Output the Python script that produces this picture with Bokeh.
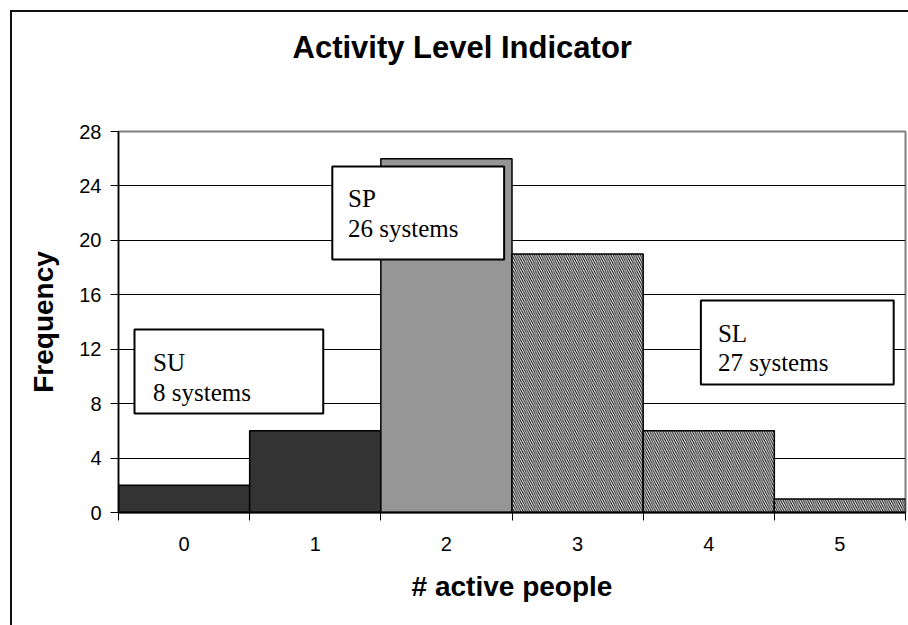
from bokeh.plotting import figure
from bokeh.models import Range1d, FixedTicker, ColumnDataSource, LinearAxis
from bokeh.core.properties import value
from bokeh.embed import file_html
from bokeh.resources import INLINE

# ---- data ----
active_people = [0, 1, 2, 3, 4, 5]
x_labels = ["0", "1", "2", "3", "4", "5"]
frequency = [2, 6, 26, 19, 6, 1]
group = ["SU", "SU", "SP", "SL", "SL", "SL"]
y_ticks = [0, 4, 8, 12, 16, 20, 24, 28]
group_line1 = ["SU", "SP", "SL"]
group_line2 = ["8 systems", "26 systems", "27 systems"]

# ---- styles ----
fill_by_group = {"SU": "#333333", "SP": "#969696", "SL": "#ffffff"}
hatch_by_group = {"SU": " ", "SP": " ", "SL": "left_diagonal_line"}

W, H = 908, 625
border_css = ("linear-gradient(#111,#111) 10px 10px / 2px calc(100% - 10px) no-repeat, "
              "linear-gradient(#111,#111) 10px 10px / calc(100% - 10px) 2px no-repeat, #ffffff")
p = figure(width=W, height=H, output_backend="svg", toolbar_location=None,
           x_range=Range1d(-0.5, 5.5), y_range=Range1d(0, 28),
           min_border_left=118, min_border_right=3, min_border_top=131,
           min_border_bottom=113,
           styles={"background": border_css})
p.background_fill_color = "white"
p.border_fill_alpha = 0
p.outline_line_color = "#808080"
p.outline_line_width = 2

# title
p.title.text = "Activity Level Indicator"
p.title.align = "left"
p.title.offset = 174
p.title.standoff = 10
p.title.text_font = "Liberation Sans"
p.title.text_font_size = "31px"
p.title.text_font_style = "bold"
p.title.text_color = "black"

# grid
p.xgrid.visible = False
p.ygrid.ticker = FixedTicker(ticks=y_ticks[1:-1])
p.ygrid.grid_line_color = "black"
p.ygrid.grid_line_width = 1
p.ygrid.level = "underlay"

# bars
src = ColumnDataSource(dict(
    x=active_people, top=frequency,
    fill=[fill_by_group[g] for g in group],
    hatch=[hatch_by_group[g] for g in group],
))
p.vbar(x="x", top="top", width=1.0, bottom=0, source=src,
       fill_color="fill", line_color="black", line_width=1.5,
       hatch_pattern="hatch", hatch_color="black", hatch_scale=4.5,
       hatch_weight=1)

# annotation boxes (data coordinates)
box_left = [-0.378, 1.13, 3.94]
box_right = [1.061, 2.44, 5.41]
box_top = [13.45, 25.43, 15.58]
box_bottom = [7.28, 18.59, 9.41]
p.quad(left=box_left, right=box_right, top=box_top, bottom=box_bottom,
       fill_color="white", line_color="black", line_width=2)
text_x = [-0.237, 1.25, 4.07]
line1_y = [11.02, 23.08, 13.18]
line2_y = [8.82, 20.87, 11.05]
p.text(x=text_x, y=line1_y, text=group_line1, text_font=value("Liberation Serif"),
       text_font_size="25px", text_color="black", text_baseline="alphabetic")
p.text(x=text_x, y=line2_y, text=group_line2, text_font=value("Liberation Serif"),
       text_font_size="25px", text_color="black", text_baseline="alphabetic")

# axes
yax = p.left[0]
yax.ticker = FixedTicker(ticks=y_ticks)
yax.major_tick_out = 8
yax.major_tick_in = 0
yax.minor_tick_out = 0
yax.minor_tick_in = 0
yax.major_label_standoff = 9
yax.major_label_text_font = "Liberation Sans"
yax.major_label_text_font_size = "20px"
yax.major_label_text_color = "black"
yax.axis_line_color = "black"
yax.axis_line_width = 1.5
yax.major_tick_line_color = "black"
yax.major_tick_line_width = 1
yax.axis_label = "Frequency"
yax.axis_label_text_font = "Liberation Sans"
yax.axis_label_text_font_size = "28px"
yax.axis_label_text_font_style = "bold"
yax.axis_label_text_color = "black"
yax.axis_label_standoff = 17

xax = p.below[0]
xax.ticker = FixedTicker(ticks=active_people,
                         minor_ticks=[i - 0.5 for i in active_people] + [active_people[-1] + 0.5])
xax.major_label_overrides = {i: s for i, s in zip(active_people, x_labels)}
xax.major_tick_out = 0
xax.major_tick_in = 0
xax.minor_tick_out = 8
xax.minor_tick_in = 0
xax.minor_tick_line_color = "black"
xax.minor_tick_line_width = 1
xax.major_label_standoff = 16
xax.major_label_text_font = "Liberation Sans"
xax.major_label_text_font_size = "20px"
xax.major_label_text_color = "black"
xax.axis_line_color = "black"
xax.axis_line_width = 2
xax.axis_label = "# active people"
xax.axis_label_text_font = "Liberation Sans"
xax.axis_label_text_font_size = "28px"
xax.axis_label_text_font_style = "bold"
xax.axis_label_text_color = "black"
xax.axis_label_standoff = 17

# invisible spacer between the frame and the title (keeps the title high up)
spacer = LinearAxis(ticker=FixedTicker(ticks=[active_people[0]]), axis_line_color=None,
                    major_tick_out=62, major_tick_in=0, minor_tick_out=0,
                    minor_tick_in=0, major_tick_line_color=None,
                    minor_tick_line_color=None, major_label_standoff=0,
                    major_label_text_font_size="1px", major_label_text_color=None)
p.add_layout(spacer, "above")

open("out.html", "w").write(file_html(p, INLINE))
